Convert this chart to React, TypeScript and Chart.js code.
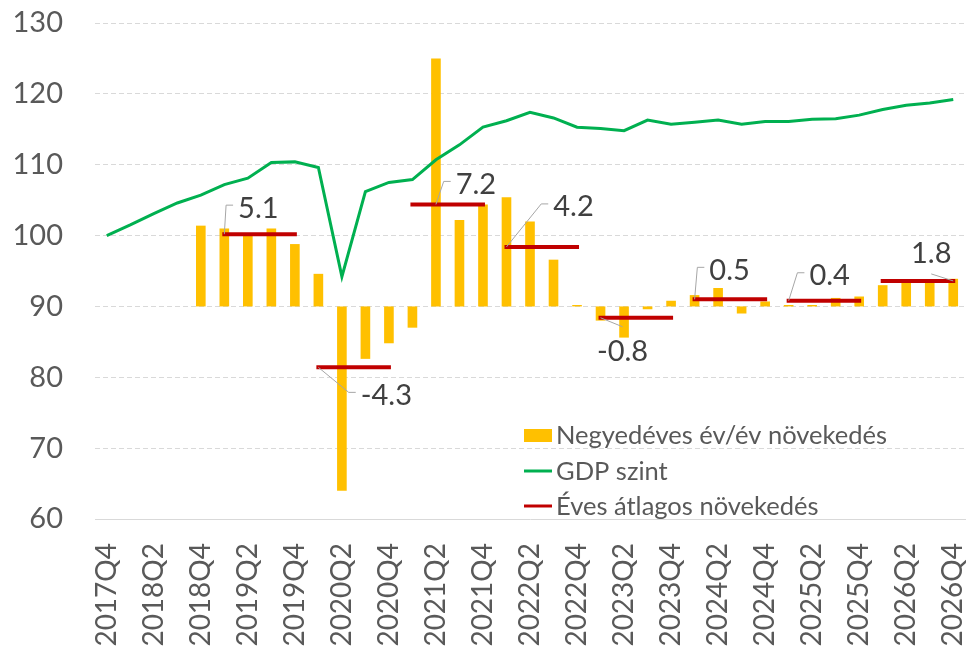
import React, { useEffect, useRef } from 'react';
import { Chart, registerables } from 'chart.js';

Chart.register(...registerables);

// ---------- DATA ----------
const categories: string[] = [
  '2017Q4',
  '2018Q1', '2018Q2', '2018Q3', '2018Q4',
  '2019Q1', '2019Q2', '2019Q3', '2019Q4',
  '2020Q1', '2020Q2', '2020Q3', '2020Q4',
  '2021Q1', '2021Q2', '2021Q3', '2021Q4',
  '2022Q1', '2022Q2', '2022Q3', '2022Q4',
  '2023Q1', '2023Q2', '2023Q3', '2023Q4',
  '2024Q1', '2024Q2', '2024Q3', '2024Q4',
  '2025Q1', '2025Q2', '2025Q3', '2025Q4',
  '2026Q1', '2026Q2', '2026Q3', '2026Q4',
];

// GDP level (2017Q4 = 100)
const gdpLevel: number[] = [
  100.0,
  101.5, 103.1, 104.6, 105.7,
  107.2, 108.1, 110.3, 110.4,
  109.6, 94.2, 106.2, 107.5,
  107.9, 110.7, 112.8, 115.3,
  116.2, 117.4, 116.6, 115.3,
  115.1, 114.8, 116.3, 115.7,
  116.0, 116.3, 115.7, 116.1,
  116.1, 116.4, 116.5, 117.0,
  117.8, 118.4, 118.7, 119.2,
];

// Quarterly year-on-year growth, %
const quarterlyGrowth: (number | null)[] = [
  null,
  null, null, null, 5.7,
  5.5, 5.0, 5.5, 4.4,
  2.3, -13.0, -3.7, -2.6,
  -1.5, 17.5, 6.1, 7.2,
  7.7, 6.0, 3.3, 0.1,
  -1.0, -2.2, -0.2, 0.4,
  0.8, 1.3, -0.5, 0.35,
  0.1, 0.1, 0.6, 0.7,
  1.5, 1.7, 1.9, 1.95,
];

// Annual average growth, %
const avgYears: number[] = [2019, 2020, 2021, 2022, 2023, 2024, 2025, 2026];
const annualAvgGrowth: number[] = [5.1, -4.3, 7.2, 4.2, -0.8, 0.5, 0.4, 1.8];

const yMin = 60;
const yMax = 130;
const yStep = 10;

const seriesNames = ['Negyedéves év/év növekedés', 'GDP szint', 'Éves átlagos növekedés'];

// growth bars are drawn on the level axis: base 90, 1 % = 2 units
const BAR_BASE = 90;
const BAR_SCALE = 2;

// ---------- STYLE ----------
const COLOR_BAR = '#FFC000';
const COLOR_GDP = '#00B050';
const COLOR_AVG = '#C00000';
const COLOR_TEXT = '#595959';
const COLOR_LABEL = '#404040';
const COLOR_GRID = '#D9D9D9';
const FONT = 'Lato';

// label placement (offset of text centre from anchor point, leader side)
const avgLabelPlacement = [
  { anchorQ: 1, dx: 34, dy: -27, side: 'left' },
  { anchorQ: 1, dx: 68, dy: 27, side: 'left' },
  { anchorQ: 2, dx: 40, dy: -21, side: 'left' },
  { anchorQ: 1, dx: 67, dy: -41, side: 'left' },
  { anchorQ: 1, dx: 22, dy: 33, side: 'top' },
  { anchorQ: 1, dx: 35, dy: -30, side: 'left' },
  { anchorQ: 1, dx: 41, dy: -26, side: 'left' },
  { anchorQ: 4, dx: -22, dy: -28, side: 'bottom' },
];

const yearOf = (label: string) => parseInt(label.slice(0, 4), 10);

const overlayPlugin = {
  id: 'overlay',
  afterDraw(chart: any) {
    const ctx: CanvasRenderingContext2D = chart.ctx;
    const xs = chart.scales.x;
    const ys = chart.scales.y;
    const ca = chart.chartArea;
    ctx.save();

    // value labels with leader lines
    const lf = 29;
    ctx.font = `${lf}px ${FONT}`;
    annualAvgGrowth.forEach((avg, i) => {
      const p = avgLabelPlacement[i];
      const idx = categories.indexOf(`${avgYears[i]}Q${p.anchorQ}`);
      const ax = xs.getPixelForValue(idx);
      const ay = ys.getPixelForValue(BAR_BASE + BAR_SCALE * avg);
      const text = avg.toFixed(1);
      const w = ctx.measureText(text).width;
      const cx = ax + p.dx;
      const cy = ay + p.dy;
      ctx.strokeStyle = '#A6A6A6';
      ctx.lineWidth = 1;
      ctx.beginPath();
      ctx.moveTo(ax, ay);
      if (p.side === 'left') {
        const ex = cx - w / 2 - 5;
        const ey = cy - 2;
        ctx.lineTo(ex - 7, ey);
        ctx.lineTo(ex, ey);
      } else if (p.side === 'top') {
        ctx.lineTo(cx, cy - 24);
      } else {
        ctx.lineTo(cx, cy + 21);
      }
      ctx.stroke();
      ctx.fillStyle = COLOR_LABEL;
      ctx.textAlign = 'center';
      ctx.textBaseline = 'alphabetic';
      ctx.fillText(text, cx, cy + lf * 0.36);
    });

    // legend inside plot
    const lx = ca.left + 429;
    const rows = [ca.top + 412, ca.top + 448, ca.top + 483];
    ctx.font = `25.5px ${FONT}`;
    ctx.fillStyle = COLOR_BAR;
    ctx.fillRect(lx, rows[0] - 6, 28, 13);
    ctx.lineCap = 'butt';
    ctx.strokeStyle = COLOR_GDP;
    ctx.lineWidth = 3;
    ctx.beginPath();
    ctx.moveTo(lx, rows[1]);
    ctx.lineTo(lx + 28, rows[1]);
    ctx.stroke();
    ctx.strokeStyle = COLOR_AVG;
    ctx.beginPath();
    ctx.moveTo(lx, rows[2]);
    ctx.lineTo(lx + 28, rows[2]);
    ctx.stroke();
    ctx.fillStyle = COLOR_TEXT;
    ctx.textAlign = 'left';
    ctx.textBaseline = 'alphabetic';
    seriesNames.forEach((n, i) => {
      ctx.fillText(n, lx + 32, rows[i] + 8.5);
    });
    ctx.restore();
  },
};

export default function App() {
  const ref = useRef<HTMLCanvasElement | null>(null);

  useEffect(() => {
    if (!ref.current) return;

    const barData = quarterlyGrowth.map((g) =>
      g === null ? null : [BAR_BASE, BAR_BASE + BAR_SCALE * g]
    );
    const avgData = categories.map((c) => {
      const k = avgYears.indexOf(yearOf(c));
      return k < 0 ? null : BAR_BASE + BAR_SCALE * annualAvgGrowth[k];
    });

    const chart = new Chart(ref.current, {
      type: 'bar',
      data: {
        labels: categories,
        datasets: [
          {
            type: 'bar',
            label: seriesNames[0],
            data: barData as any,
            backgroundColor: COLOR_BAR,
            borderWidth: 0,
            barPercentage: 0.41,
            categoryPercentage: 1,
            order: 3,
          },
          {
            type: 'line',
            label: seriesNames[1],
            data: gdpLevel,
            borderColor: COLOR_GDP,
            borderWidth: 3,
            pointRadius: 0,
            tension: 0,
            order: 2,
          },
          {
            type: 'line',
            label: seriesNames[2],
            data: avgData,
            borderColor: COLOR_AVG,
            borderWidth: 4,
            borderCapStyle: 'square',
            pointRadius: 0,
            tension: 0,
            spanGaps: false,
            order: 1,
            segment: {
              borderColor: (sc: any) =>
                yearOf(categories[sc.p0DataIndex]) === yearOf(categories[sc.p1DataIndex])
                  ? COLOR_AVG
                  : 'transparent',
            },
          },
        ],
      },
      options: {
        responsive: false,
        animation: false,
        layout: { padding: { top: 23, right: 6, left: 0, bottom: 0 } },
        plugins: {
          legend: { display: false },
          tooltip: { enabled: false },
        },
        scales: {
          x: {
            offset: true,
            grid: { display: false, drawTicks: false, tickLength: 0 },
            border: { display: true, color: COLOR_GRID, width: 1 },
            ticks: {
              autoSkip: false,
              minRotation: 90,
              maxRotation: 90,
              padding: 24,
              color: COLOR_TEXT,
              font: { family: FONT, size: 28 },
              callback: (_v: any, i: number) => (i % 2 === 0 ? categories[i] : null),
            },
            afterFit: (s: any) => {
              s.height = 135;
              s.paddingLeft = 0;
              s.paddingRight = 0;
            },
          },
          y: {
            min: yMin,
            max: yMax,
            grid: {
              drawTicks: false,
              tickLength: 0,
              color: (c: any) => (c.tick && c.tick.value === yMin ? 'transparent' : COLOR_GRID),
              lineWidth: 1,
            },
            border: { display: false, dash: [5, 3] },
            ticks: {
              stepSize: yStep,
              padding: 32,
              color: COLOR_TEXT,
              font: { family: FONT, size: 29 },
            },
            afterFit: (s: any) => {
              s.width = 95;
              s.paddingTop = 0;
              s.paddingBottom = 0;
            },
          },
        },
      },
      plugins: [overlayPlugin],
    });

    return () => chart.destroy();
  }, []);

  return (
    <div style={{ position: 'fixed', left: 0, top: 0, width: 971, height: 654, background: '#fff' }}>
      <canvas ref={ref} width={971} height={654} style={{ display: 'block' }} />
    </div>
  );
}
